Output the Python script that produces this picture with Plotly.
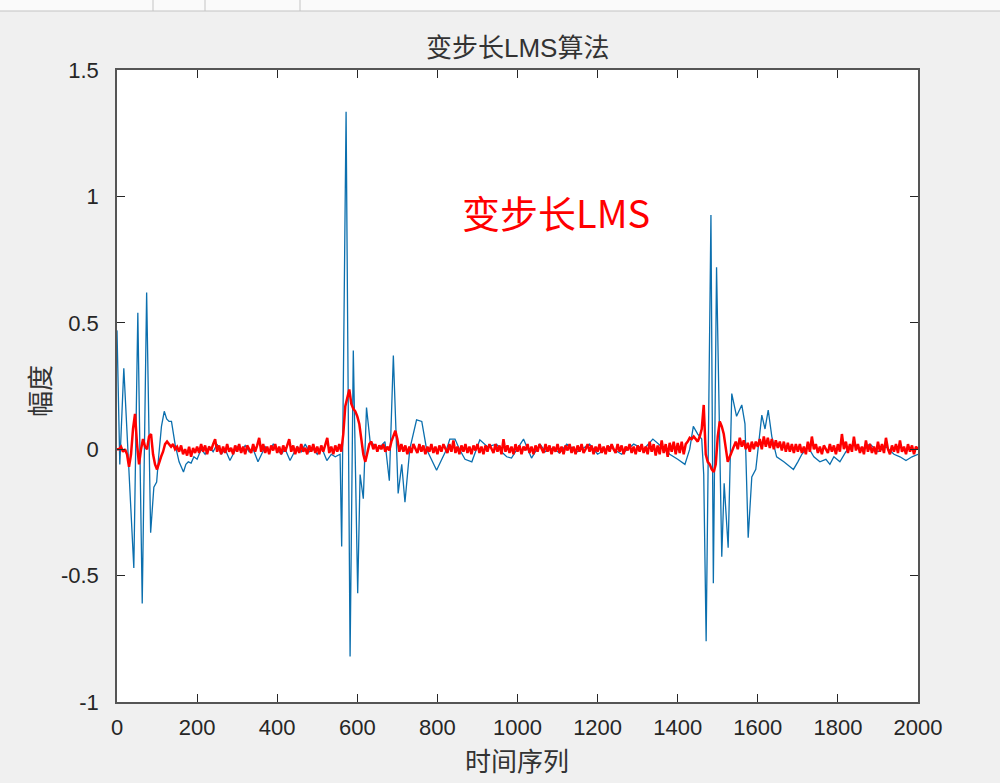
import plotly.graph_objects as go

# ---------------- data ----------------
# red curve: variable step-size LMS output, sampled every 5 points (0..2000)
red_step = 5
red_y = [
    0.0, 0.0, 0.01, -0.01, 0.0, -0.02, -0.07, -0.02, 0.08, 0.14, 0.02, -0.06, 0.0, 0.04, 0.01, 0.0, 0.05, 0.06, -0.02, -0.06,
    -0.08, -0.05, -0.03, -0.01, 0.02, 0.03, 0.02, 0.01, 0.02, 0.0, 0.01, -0.01, 0.015, -0.02, 0.0, -0.025, 0.01, -0.03, 0.005, -0.015,
    0.01, -0.015, 0.02, -0.01, 0.015, -0.02, 0.01, -0.005, 0.02, 0.04, -0.01, 0.015, -0.02, 0.01, -0.015, 0.02, -0.01, 0.005, -0.02, 0.015,
    -0.01, 0.02, -0.015, 0.01, -0.02, 0.015, 0.0, -0.015, 0.02, -0.01, 0.015, 0.045, -0.01, 0.02, -0.015, 0.01, -0.02, 0.015, -0.005, 0.02,
    -0.015, 0.01, -0.02, 0.015, -0.01, 0.02, 0.04, -0.01, 0.015, -0.02, 0.01, -0.015, 0.02, -0.01, 0.005, -0.02, 0.015, -0.01, 0.02, -0.015,
    0.01, -0.02, 0.015, -0.01, 0.02, 0.045, -0.015, 0.01, -0.02, 0.015, -0.01, 0.02, -0.01, 0.06, 0.17, 0.21, 0.236, 0.18, 0.16, 0.15,
    0.13, 0.1, 0.03, -0.02, -0.05, -0.01, 0.02, 0.03, 0.0, 0.02, -0.01, 0.015, 0.0, 0.02, -0.01, 0.01, -0.005, 0.03, 0.05, 0.073,
    0.04, -0.01, 0.02, -0.01, 0.015, -0.02, 0.01, -0.015, 0.02, 0.0, -0.015, 0.02, -0.01, 0.015, -0.02, 0.01, -0.01, 0.02, -0.015, 0.01,
    -0.02, 0.015, -0.01, 0.02, 0.0, -0.015, 0.02, -0.01, 0.035, -0.015, 0.01, -0.02, 0.015, -0.01, 0.02, -0.015, 0.01, -0.02, 0.015, -0.005,
    0.02, -0.015, 0.01, -0.02, 0.015, -0.01, 0.02, 0.0, -0.015, 0.02, -0.01, 0.015, -0.02, 0.04, -0.01, 0.015, -0.015, 0.01, -0.02, 0.02,
    -0.01, 0.015, -0.02, 0.01, -0.005, 0.02, -0.015, 0.01, -0.02, 0.015, -0.01, 0.02, 0.0, -0.015, 0.02, -0.01, 0.015, -0.02, 0.01, -0.01,
    0.02, -0.015, 0.01, -0.02, 0.015, -0.005, 0.02, -0.015, 0.01, -0.02, 0.015, -0.01, 0.02, -0.015, 0.0, 0.02, -0.01, 0.015, -0.02, 0.01,
    -0.01, 0.02, -0.015, 0.01, -0.02, 0.015, -0.01, 0.02, 0.0, -0.015, 0.02, -0.01, 0.015, -0.02, 0.01, -0.005, 0.02, -0.015, 0.01, -0.02,
    0.015, -0.01, 0.02, -0.015, 0.01, -0.02, 0.03, -0.01, 0.02, -0.025, 0.015, -0.02, 0.035, -0.015, 0.02, -0.03, 0.025, -0.01, 0.03, -0.02,
    0.025, -0.015, 0.03, -0.02, 0.02, 0.03, 0.045, 0.04, 0.05, 0.04, 0.03, 0.05, 0.08, 0.175, -0.02, -0.05, -0.06, -0.08, -0.09, -0.06,
    0.05, 0.11, 0.09, 0.06, 0.01, -0.05, -0.03, -0.01, 0.01, 0.03, 0.0, 0.045, 0.01, 0.035, 0.0, 0.025, -0.01, 0.03, 0.0, 0.03,
    0.01, 0.04, 0.0, 0.05, 0.01, 0.045, 0.005, 0.04, 0.0, 0.035, 0.005, 0.03, -0.005, 0.03, -0.01, 0.025, -0.01, 0.02, -0.015, 0.02,
    -0.01, 0.02, -0.015, 0.01, -0.02, 0.03, -0.01, 0.05, 0.0, 0.02, -0.015, 0.01, -0.02, 0.015, 0.0, -0.015, 0.02, -0.01, 0.015, -0.02,
    0.02, -0.01, 0.06, 0.0, 0.03, -0.015, 0.02, -0.01, 0.05, -0.005, 0.02, -0.015, 0.01, -0.02, 0.035, -0.01, 0.02, -0.015, 0.01, -0.02,
    0.03, -0.01, 0.02, -0.015, 0.045, 0.0, -0.02, 0.015, -0.01, 0.02, -0.015, 0.035, -0.01, 0.01, -0.02, 0.02, -0.01, 0.015, -0.02, 0.01,
    0.0,
]
red_x = [i * red_step for i in range(len(red_y))]

# blue curve: key samples and amplitudes
blue_x = [
    0, 7, 17, 30, 42, 52, 63, 74, 84, 92, 99, 104, 111, 118, 124, 130, 136, 145, 155, 166, 172, 178, 185, 192,
    200, 210, 220, 230, 240, 250, 260, 270, 282, 290, 300, 310, 320, 330, 340, 352, 360, 370, 380, 390, 400, 410,
    420, 432, 440, 450, 460, 470, 480, 490, 500, 510, 524, 535, 545, 557,
    561, 572, 582, 590, 601, 607, 615, 623, 632, 640, 652, 669, 680, 690, 702, 711, 719, 731, 748, 761, 773, 798, 811, 823,
    831, 844, 855, 869, 886, 906, 925, 948, 960, 973, 985, 1000, 1015, 1035, 1056, 1070, 1089, 1105, 1123, 1150,
    1180, 1200, 1230, 1260, 1290, 1315, 1338, 1360, 1380, 1400, 1418, 1430, 1439, 1450, 1460,
    1465, 1471, 1483, 1489, 1497, 1510, 1516, 1526, 1535, 1547, 1560, 1568, 1576, 1585, 1595, 1610, 1618, 1626, 1635, 1647,
    1665, 1689, 1700,
    1710, 1725, 1740, 1755, 1770, 1780, 1790, 1805, 1820, 1840, 1860, 1880, 1900, 1920, 1940, 1955, 1970, 1985, 2000,
]
blue_y = [
    0.47, -0.06, 0.32, -0.1, -0.47, 0.54, -0.61, 0.62, -0.33, -0.15, -0.13, -0.03, 0.09, 0.15, 0.12, 0.11, 0.11, 0.02, -0.05, -0.09, -0.06, -0.05, -0.055, -0.03,
    -0.04, 0.0, -0.02, 0.01, -0.01, 0.02, -0.02, 0.0, -0.045, -0.02, 0.01, -0.01, 0.015, -0.01, 0.0, -0.05, -0.02, 0.01, -0.01, 0.02, 0.0, -0.02,
    0.0, -0.045, -0.02, 0.01, -0.01, 0.02, -0.01, 0.0, -0.02, 0.01, -0.045, -0.02, -0.03, -0.02,
    -0.385, 1.335, -0.82, 0.39, -0.57, -0.1, -0.196, 0.165, 0.03, 0.02, 0.0, 0.03, -0.125, 0.371, -0.175, -0.06, -0.21, 0.0, 0.116, 0.11, 0.0, -0.083, -0.04, 0.0,
    0.04, 0.04, 0.0, -0.04, -0.05, 0.037, 0.01, 0.02, -0.01, -0.03, -0.035, 0.0, 0.04, -0.035, 0.02, -0.01, 0.005, -0.015, 0.02, -0.01,
    0.02, -0.02, 0.01, -0.02, 0.02, 0.0, 0.04, 0.01, -0.02, -0.04, -0.06, 0.0, 0.09, 0.06, 0.04,
    -0.1, -0.76, 0.926, -0.53, 0.72, -0.425, -0.135, -0.39, 0.22, 0.13, 0.175, 0.1, -0.35, -0.11, -0.08, 0.135, 0.08, 0.155, 0.05, -0.03,
    -0.05, -0.08, -0.05,
    -0.02, 0.01, -0.03, -0.05, -0.04, -0.06, -0.03, -0.05, -0.01, 0.02, 0.0, 0.02, -0.01, 0.01, -0.02, -0.03, -0.045, -0.03, -0.02,
]

x_ticks = [0, 200, 400, 600, 800, 1000, 1200, 1400, 1600, 1800, 2000]
y_ticks = [-1, -0.5, 0, 0.5, 1, 1.5]
y_tick_text = ["-1", "-0.5", "0", "0.5", "1", "1.5"]

title_text = "变步长LMS算法"
x_label = "时间序列"
y_label = "幅度"
note_text = "变步长LMS"
note_pos = (856, 0.94)

# ---------------- figure ----------------
L, R, T, B = 117, 82, 70, 81
W, H = 1000, 783
pw, ph = W - L - R, H - T - B


def px(xp):
    return (xp - L) / pw


def py(yp):
    return (H - B - yp) / ph


fig = go.Figure()
fig.add_trace(go.Scatter(x=blue_x, y=blue_y, mode="lines",
                         line=dict(color="#0b6fae", width=1.3), showlegend=False, hoverinfo="skip"))
fig.add_trace(go.Scatter(x=red_x, y=red_y, mode="lines",
                         line=dict(color="#ff0000", width=2.5), showlegend=False, hoverinfo="skip"))

tick_font = dict(family="Liberation Sans, Arial, sans-serif", size=22, color="#262626")
lab_font = dict(family="Liberation Sans, Noto Sans CJK SC, sans-serif", size=26, color="#333333")

fig.update_layout(
    width=W, height=H,
    margin=dict(l=L, r=R, t=T, b=B, pad=0),
    paper_bgcolor="#f0f0f0",
    plot_bgcolor="white",
    showlegend=False,
    xaxis=dict(range=[0, 2000], tickvals=x_ticks, ticks="inside", ticklen=8, tickwidth=1,
               tickcolor="#262626", showline=True, linecolor="#555555", linewidth=1.5,
               mirror="allticks", showgrid=False, zeroline=False, tickfont=tick_font,
               ticklabelstandoff=5),
    yaxis=dict(range=[-1, 1.5], tickvals=y_ticks, ticktext=y_tick_text, ticks="inside", ticklen=8,
               tickwidth=1, tickcolor="#262626", showline=True, linecolor="#555555", linewidth=1.5,
               mirror="allticks", showgrid=False, zeroline=False, tickfont=tick_font,
               ticklabelstandoff=12),
    annotations=[
        dict(text=title_text, x=0.5, y=py(48), xref="paper", yref="paper", showarrow=False,
             xanchor="center", yanchor="middle", font=lab_font),
        dict(text=x_label, x=px(517), y=py(762), xref="paper", yref="paper", showarrow=False,
             xanchor="center", yanchor="middle", font=lab_font),
        dict(text=y_label, x=px(41), y=py(391), xref="paper", yref="paper", showarrow=False,
             xanchor="center", yanchor="middle", textangle=-90, font=lab_font),
        dict(text=note_text, x=note_pos[0], y=note_pos[1], xref="x", yref="y", showarrow=False,
             xanchor="left", yanchor="middle",
             font=dict(family="Noto Sans CJK SC, sans-serif", size=38, color="#ff0000")),
    ],
    shapes=[
        dict(type="rect", xref="paper", yref="paper", x0=px(0), x1=px(W), y0=py(11), y1=py(0),
             fillcolor="#fafafa", line=dict(width=0), layer="below"),
        dict(type="line", xref="paper", yref="paper", x0=px(0), x1=px(W), y0=py(11), y1=py(11),
             line=dict(color="#c4c4c4", width=1)),
        dict(type="line", xref="paper", yref="paper", x0=px(153), x1=px(153), y0=py(11), y1=py(0),
             line=dict(color="#c4c4c4", width=1)),
        dict(type="line", xref="paper", yref="paper", x0=px(205), x1=px(205), y0=py(11), y1=py(0),
             line=dict(color="#c4c4c4", width=1)),
        dict(type="line", xref="paper", yref="paper", x0=px(300), x1=px(300), y0=py(11), y1=py(0),
             line=dict(color="#c4c4c4", width=1)),
    ],
)

fig.write_html("out.html")
